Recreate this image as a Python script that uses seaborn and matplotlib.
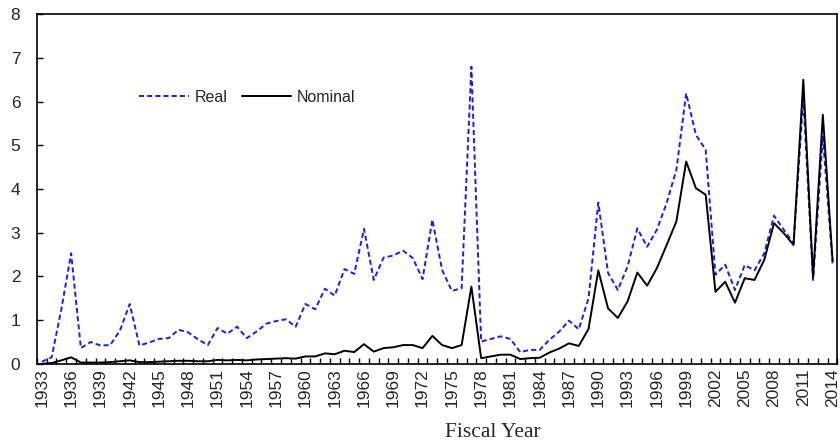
import numpy as np
import pandas as pd
import matplotlib
matplotlib.use('Agg')
import matplotlib.pyplot as plt
from matplotlib.ticker import MultipleLocator, FixedLocator
import seaborn as sns

# Fiscal years 1933-2014
years = list(range(1933, 2015))

real = [0.05, 0.15, 1.25, 2.53, 0.36, 0.50, 0.42, 0.43, 0.76, 1.37,
        0.42, 0.49, 0.57, 0.59, 0.78, 0.72, 0.56, 0.43, 0.82, 0.69,
        0.85, 0.59, 0.74, 0.92, 0.98, 1.02, 0.85, 1.37, 1.25, 1.72,
        1.56, 2.17, 2.06, 3.09, 1.92, 2.43, 2.48, 2.59, 2.42, 1.94,
        3.30, 2.15, 1.67, 1.73, 6.80, 0.51, 0.57, 0.63, 0.57, 0.27,
        0.32, 0.32, 0.55, 0.74, 0.99, 0.79, 1.50, 3.69, 2.08, 1.69,
        2.23, 3.10, 2.68, 3.07, 3.68, 4.44, 6.19, 5.24, 4.90, 2.04,
        2.27, 1.69, 2.26, 2.14, 2.53, 3.39, 3.07, 2.76, 6.08, 1.92,
        5.20, 2.30]

nominal = [0.00, 0.02, 0.08, 0.15, 0.03, 0.03, 0.03, 0.04, 0.06, 0.08,
           0.04, 0.04, 0.05, 0.06, 0.07, 0.07, 0.06, 0.06, 0.09, 0.08,
           0.09, 0.08, 0.10, 0.11, 0.12, 0.13, 0.12, 0.17, 0.17, 0.24,
           0.22, 0.30, 0.27, 0.45, 0.28, 0.36, 0.38, 0.43, 0.43, 0.36,
           0.64, 0.43, 0.36, 0.43, 1.77, 0.13, 0.17, 0.21, 0.21, 0.11,
           0.13, 0.14, 0.26, 0.35, 0.47, 0.41, 0.80, 2.14, 1.27, 1.05,
           1.43, 2.09, 1.79, 2.19, 2.72, 3.26, 4.63, 4.02, 3.87, 1.65,
           1.88, 1.40, 1.96, 1.92, 2.38, 3.22, 2.99, 2.72, 6.50, 1.98,
           5.70, 2.36]

df = pd.DataFrame({'year': years, 'Real': real, 'Nominal': nominal})

sns.set_style('white')
plt.rcParams['font.family'] = ['Liberation Sans', 'DejaVu Sans']

fig = plt.figure(figsize=(8.4, 4.47), dpi=100)
ax = fig.add_axes([0.044, 0.186, 0.953, 0.782])

sns.lineplot(data=df, x='year', y='Real', ax=ax, color='#1a1aff',
             linewidth=1.4, linestyle=(0, (2.6, 1.6)), label='Real')
sns.lineplot(data=df, x='year', y='Nominal', ax=ax, color='black',
             linewidth=1.4, label='Nominal')

ax.set_xlim(1932.5, 2014.5)
ax.set_ylim(0, 8)
ax.yaxis.set_major_locator(MultipleLocator(1))

# labels every third year, tick marks between categories
ax.xaxis.set_major_locator(FixedLocator(years[::3]))
ax.xaxis.set_minor_locator(FixedLocator([y - 0.5 for y in years] + [2014.5]))
ax.tick_params(axis='x', which='major', length=0, labelsize=12.5,
               labelrotation=90, pad=3)
ax.tick_params(axis='x', which='minor', direction='in', length=4,
               width=1.0, color='black', bottom=True)
ax.tick_params(axis='y', which='major', direction='in', length=4,
               width=1.0, color='black', labelsize=12.5, pad=12, left=True)

for s in ax.spines.values():
    s.set_color('black')
    s.set_linewidth(1.2)

ax.set_ylabel('')
ax.set_xlabel('Fiscal Year', fontsize=15.5, family=['Liberation Serif'])
ax.xaxis.set_label_coords(0.57, -0.168)

ax.legend(loc='upper left', bbox_to_anchor=(0.11, 0.825), ncol=2, frameon=False,
          fontsize=11.5, handlelength=3.1, handletextpad=0.35, columnspacing=0.9)

fig.savefig('out.png', dpi=100)
